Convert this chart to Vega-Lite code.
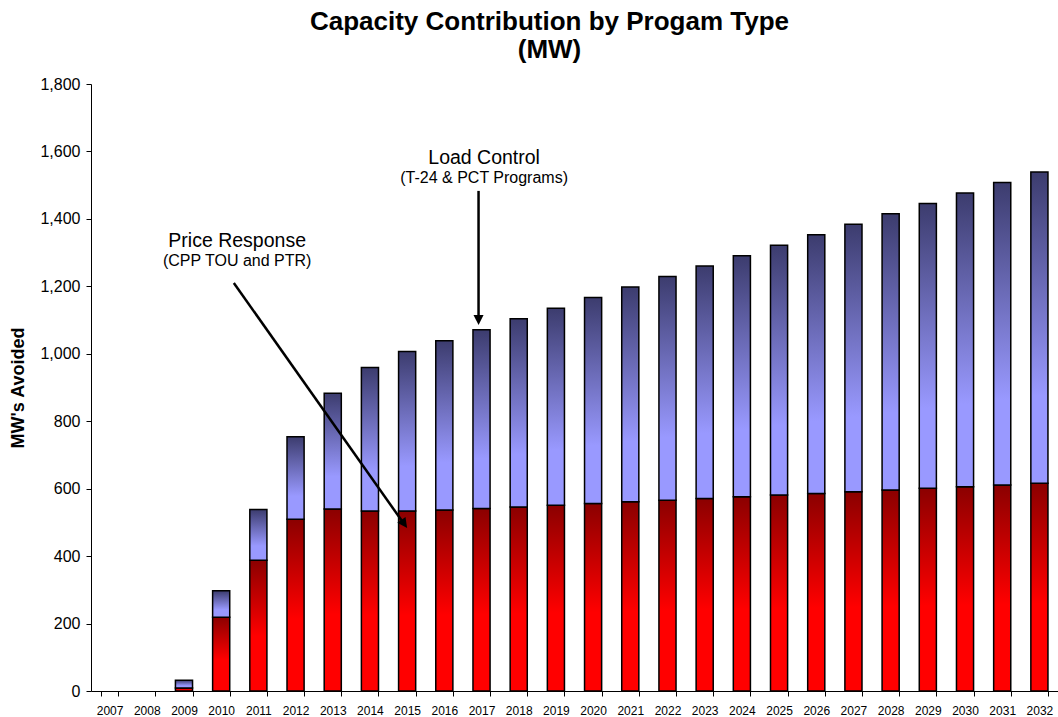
{
  "$schema": "https://vega.github.io/schema/vega-lite/v6.json",
  "width": 967,
  "height": 607,
  "autosize": "none",
  "padding": {"left": 91, "top": 84, "right": 0, "bottom": 26},
  "background": "white",
  "config": {"view": {"stroke": null}, "font": "Liberation Sans"},
  "title": {
    "text": ["Capacity Contribution by Progam Type", "(MW)"],
    "font": "Liberation Sans",
    "fontSize": 26,
    "fontWeight": "bold",
    "color": "black",
    "anchor": "middle",
    "dx": -25,
    "offset": -8,
    "baseline": "alphabetic",
    "lineHeight": 28.5
  },
  "datasets": {
    "bars": [
      {"year": 2009, "program": "Price Response", "mw": 9},
      {"year": 2009, "program": "Load Control", "mw": 23},
      {"year": 2010, "program": "Price Response", "mw": 219},
      {"year": 2010, "program": "Load Control", "mw": 78},
      {"year": 2011, "program": "Price Response", "mw": 388},
      {"year": 2011, "program": "Load Control", "mw": 150},
      {"year": 2012, "program": "Price Response", "mw": 509},
      {"year": 2012, "program": "Load Control", "mw": 245},
      {"year": 2013, "program": "Price Response", "mw": 540},
      {"year": 2013, "program": "Load Control", "mw": 343},
      {"year": 2014, "program": "Price Response", "mw": 534},
      {"year": 2014, "program": "Load Control", "mw": 425},
      {"year": 2015, "program": "Price Response", "mw": 534},
      {"year": 2015, "program": "Load Control", "mw": 473},
      {"year": 2016, "program": "Price Response", "mw": 537},
      {"year": 2016, "program": "Load Control", "mw": 502},
      {"year": 2017, "program": "Price Response", "mw": 541},
      {"year": 2017, "program": "Load Control", "mw": 530},
      {"year": 2018, "program": "Price Response", "mw": 546},
      {"year": 2018, "program": "Load Control", "mw": 558},
      {"year": 2019, "program": "Price Response", "mw": 551},
      {"year": 2019, "program": "Load Control", "mw": 584},
      {"year": 2020, "program": "Price Response", "mw": 556},
      {"year": 2020, "program": "Load Control", "mw": 611},
      {"year": 2021, "program": "Price Response", "mw": 561},
      {"year": 2021, "program": "Load Control", "mw": 637},
      {"year": 2022, "program": "Price Response", "mw": 566},
      {"year": 2022, "program": "Load Control", "mw": 663},
      {"year": 2023, "program": "Price Response", "mw": 571},
      {"year": 2023, "program": "Load Control", "mw": 689},
      {"year": 2024, "program": "Price Response", "mw": 576},
      {"year": 2024, "program": "Load Control", "mw": 715},
      {"year": 2025, "program": "Price Response", "mw": 581},
      {"year": 2025, "program": "Load Control", "mw": 741},
      {"year": 2026, "program": "Price Response", "mw": 586},
      {"year": 2026, "program": "Load Control", "mw": 767},
      {"year": 2027, "program": "Price Response", "mw": 591},
      {"year": 2027, "program": "Load Control", "mw": 793},
      {"year": 2028, "program": "Price Response", "mw": 596},
      {"year": 2028, "program": "Load Control", "mw": 819},
      {"year": 2029, "program": "Price Response", "mw": 601},
      {"year": 2029, "program": "Load Control", "mw": 845},
      {"year": 2030, "program": "Price Response", "mw": 606},
      {"year": 2030, "program": "Load Control", "mw": 871},
      {"year": 2031, "program": "Price Response", "mw": 611},
      {"year": 2031, "program": "Load Control", "mw": 897},
      {"year": 2032, "program": "Price Response", "mw": 616},
      {"year": 2032, "program": "Load Control", "mw": 923}
    ],
    "notes": [
      {"kind": "main", "label": "Load Control", "x": 2017.07, "mw": 1563},
      {"kind": "sub", "label": "(T-24 & PCT Programs)", "x": 2017.07, "mw": 1506},
      {"kind": "main", "label": "Price Response", "x": 2010.43, "mw": 1316},
      {"kind": "sub", "label": "(CPP TOU and PTR)", "x": 2010.43, "mw": 1260}
    ],
    "arrows": [
      {"name": "load", "x": 2016.92, "mw": 1483, "x2": 2016.92, "mw2": 1100, "tipx": 2016.92, "tipmw": 1085},
      {"name": "price", "x": 2010.34, "mw": 1210, "x2": 2014.92, "mw2": 495, "tipx": 2015.0, "tipmw": 483}
    ]
  },
  "layer": [
    {
      "data": {"name": "bars"},
      "mark": {"type": "bar", "stroke": "black", "strokeWidth": 1.5},
      "encoding": {
        "x": {
          "field": "year",
          "type": "ordinal",
          "scale": {
            "domain": [2007, 2008, 2009, 2010, 2011, 2012, 2013, 2014, 2015, 2016, 2017, 2018, 2019, 2020, 2021, 2022, 2023, 2024, 2025, 2026, 2027, 2028, 2029, 2030, 2031, 2032],
            "paddingInner": 0.54,
            "paddingOuter": 0.27
          },
          "axis": {
            "title": null,
            "labelAngle": 0,
            "tickBand": "extent",
            "labelFont": "Liberation Sans",
            "labelFontSize": 12,
            "labelColor": "black",
            "domainColor": "black",
            "tickColor": "black",
            "tickSize": 5,
            "labelPadding": 9
          }
        },
        "y": {
          "field": "mw",
          "type": "quantitative",
          "stack": "zero",
          "scale": {"domain": [0, 1800], "nice": false},
          "axis": {
            "title": "MW's Avoided",
            "values": [0, 200, 400, 600, 800, 1000, 1200, 1400, 1600, 1800],
            "format": ",d",
            "grid": false,
            "labelFont": "Liberation Sans",
            "labelFontSize": 16,
            "labelColor": "black",
            "labelPadding": 6,
            "tickSize": 5,
            "tickColor": "black",
            "domainColor": "black",
            "titleFont": "Liberation Sans",
            "titleFontSize": 18,
            "titleFontWeight": "bold",
            "titleColor": "black",
            "titlePadding": 12
          }
        },
        "detail": {"field": "program"},
        "order": {"field": "program", "sort": "descending"},
        "color": {
          "condition": {
            "test": "datum.program === 'Price Response'",
            "value": {
              "gradient": "linear",
              "x1": 0, "y1": 0, "x2": 0, "y2": 1,
              "stops": [
                {"offset": 0, "color": "#8b0000"},
                {"offset": 0.58, "color": "#ff0000"},
                {"offset": 1, "color": "#ff0000"}
              ]
            }
          },
          "value": {
            "gradient": "linear",
            "x1": 0, "y1": 0, "x2": 0, "y2": 1,
            "stops": [
              {"offset": 0, "color": "#3c3c6e"},
              {"offset": 0.72, "color": "#9999ff"},
              {"offset": 1, "color": "#9999ff"}
            ]
          }
        }
      }
    },
    {
      "data": {"name": "notes"},
      "mark": {"type": "text", "font": "Liberation Sans", "baseline": "alphabetic", "align": "center", "color": "black"},
      "encoding": {
        "x": {"field": "x", "type": "quantitative", "scale": {"domain": [2006.5, 2032.5], "nice": false, "zero": false}, "axis": null},
        "y": {"field": "mw", "type": "quantitative"},
        "text": {"field": "label"},
        "size": {"condition": {"test": "datum.kind === 'main'", "value": 19.5}, "value": 16}
      }
    },
    {
      "data": {"name": "arrows"},
      "mark": {"type": "rule", "color": "black", "strokeWidth": 2.5},
      "encoding": {
        "x": {"field": "x", "type": "quantitative", "scale": {"domain": [2006.5, 2032.5], "nice": false, "zero": false}, "axis": null},
        "x2": {"field": "x2"},
        "y": {"field": "mw", "type": "quantitative"},
        "y2": {"field": "mw2"}
      }
    },
    {
      "data": {"name": "arrows"},
      "mark": {"type": "point", "shape": "M0,0L-0.6,-1.2L0.6,-1.2Z", "filled": true, "color": "black", "opacity": 1, "size": 280},
      "encoding": {
        "x": {"field": "tipx", "type": "quantitative", "scale": {"domain": [2006.5, 2032.5], "nice": false, "zero": false}, "axis": null},
        "y": {"field": "tipmw", "type": "quantitative"},
        "angle": {"condition": {"test": "datum.name === 'price'", "value": 325}, "value": 0}
      }
    }
  ],
  "resolve": {"scale": {"x": "independent"}}
}
